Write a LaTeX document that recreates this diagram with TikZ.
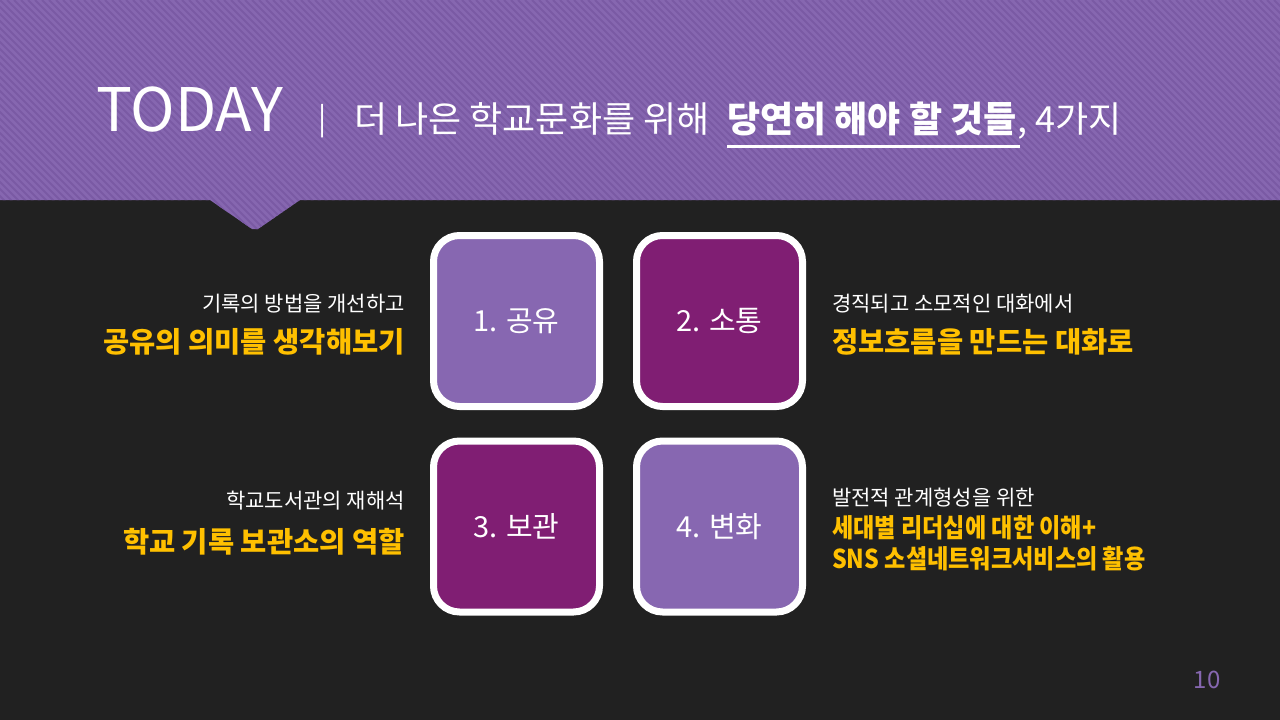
\documentclass[tikz,border=0pt]{standalone}
\usepackage{fontspec}
\setmainfont{Noto Sans CJK KR}
\usetikzlibrary{positioning, calc}
\definecolor{tdBg}{HTML}{212121}
\definecolor{tdHead}{HTML}{8667B0}
\definecolor{tdStripe}{HTML}{7A5AA4}
\definecolor{tdLilac}{HTML}{8767B1}
\definecolor{tdPlum}{HTML}{801E73}
\definecolor{tdGold}{HTML}{FFC000}
\tikzset{
  tile/.style={
    draw=white, line width=7pt, rounded corners=26pt,
    minimum width=166pt, minimum height=171pt,
    text=white, font=\fontsize{29}{32}\selectfont
  },
  tileA/.style={tile, fill=tdLilac},
  tileB/.style={tile, fill=tdPlum},
  note/.style={text=white, inner sep=0pt, font=\fontsize{21}{24}\selectfont},
  key/.style={text=tdGold, inner sep=0pt, font=\fontsize{28.5}{32}\selectfont\bfseries},
  head/.style={text=white, inner sep=0pt},
}
\begin{document}
\begin{tikzpicture}[x=1pt, y=-1pt]
  \useasboundingbox (0,0) rectangle (1280,720);
  \fill[tdBg] (0,0) rectangle (1280,720);

  % header band with pointer
  \begin{scope}
    \clip (0,0) -- (1280,0) -- (1280,200) -- (300,200)
      -- (258,229) -- (252,229) -- (210,200) -- (0,200) -- cycle;
    \fill[tdHead] (0,0) rectangle (1280,240);
    \foreach \i in {-40,...,183}
      \draw[tdStripe, line width=2pt] (\i*7,0) -- (\i*7+240,240);
  \end{scope}

  % title
  \node[head, anchor=base west, font=\fontsize{60}{64}\selectfont] (today) at (96,131) {TODAY};
  \node[head, anchor=base west, font=\fontsize{30}{34}\selectfont] (bar) at (318,129) {|};
  \node[head, anchor=base west, font=\fontsize{36}{40}\selectfont] (t1) at (354,132)
    {더 나은 학교문화를 위해};
  \node[head, anchor=base west, font=\fontsize{36}{40}\selectfont\bfseries] (t2)
    at (727,132) {당연히 해야 할 것들};
  \node[head, anchor=base west, font=\fontsize{36}{40}\selectfont] (t3) at (t2.base east) {, 4가지};
  \draw[white, line width=3pt] ($(t2.base west)+(0,14)$) -- ($(t2.base east)+(3,14)$);

  % tiles
  \node[tileA] (share) at (516.5,321) {1. 공유};
  \node[tileB] (talk)  at (719.5,321) {2. 소통};
  \node[tileB] (keep)  at (516.5,526.5) {3. 보관};
  \node[tileA] (shift) at (719.5,526.5) {4. 변화};

  % left notes
  \node[note, anchor=base east] (n1a) at (405,311) {기록의 방법을 개선하고};
  \node[key, anchor=base east]  (n1b) at (405,352) {공유의 의미를 생각해보기};
  \node[note, anchor=base east] (n3a) at (405,508) {학교도서관의 재해석};
  \node[key, anchor=base east]  (n3b) at (405,552) {학교 기록 보관소의 역할};

  % right notes
  \node[note, anchor=base west] (n2a) at (832,311) {경직되고 소모적인 대화에서};
  \node[key, anchor=base west]  (n2b) at (832,352) {정보흐름을 만드는 대화로};
  \node[note, anchor=base west] (n4a) at (832,505) {발전적 관계형성을 위한};
  \node[key, anchor=base west, font=\fontsize{26}{30}\selectfont\bfseries] (n4b) at (832,537)
    {\scalebox{0.89}[1]{세대별 리더십에 대한 이해+}};
  \node[key, anchor=base west, font=\fontsize{26}{30}\selectfont\bfseries] (n4c) at (832,568)
    {\scalebox{0.89}[1]{SNS 소셜네트워크서비스의 활용}};

  \node[text=tdHead, font=\fontsize{24}{28}\selectfont] (page) at (1207,680) {10};
\end{tikzpicture}
\end{document}
